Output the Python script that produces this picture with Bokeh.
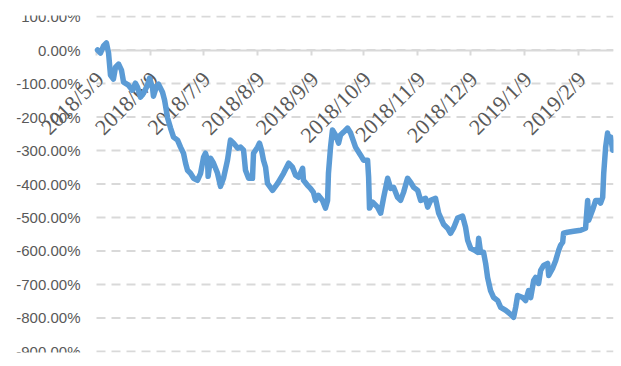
import math
import pandas as pd
from bokeh.plotting import figure
from bokeh.models import FixedTicker, PrintfTickFormatter, Range1d, LabelSet, ColumnDataSource
from bokeh.embed import file_html
from bokeh.resources import INLINE

# ---- data ----
start_date = "2018-05-09"
end_date = "2019-03-01"
tick_labels = ["2018/5/9", "2018/6/9", "2018/7/9", "2018/8/9", "2018/9/9",
               "2018/10/9", "2018/11/9", "2018/12/9", "2019/1/9", "2019/2/9"]
y_ticks = [100, 0, -100, -200, -300, -400, -500, -600, -700, -800, -900]

# days since start_date
day = [0.6, 2.3, 4.0, 5.7, 6.9, 8.0, 9.7, 10.9, 12.6, 14.3, 15.5, 18.3, 20.6, 22.3, 23.5,
       25.2, 26.9, 29.2, 30.4, 32.1, 32.6, 34.4, 35.5, 37.8, 39.0, 40.7, 42.4, 44.1, 46.4,
       48.1, 49.8, 51.0, 52.1, 53.8, 55.6, 57.8, 59.6, 61.3, 62.4, 63.6, 63.9, 65.3, 67.0,
       69.3, 71.0, 72.7, 75.0, 76.7, 78.5, 80.8, 82.5, 84.2, 85.3, 87.1, 89.3, 89.9, 92.2,
       93.3, 94.5, 95.6, 96.8, 97.9, 100.8, 103.7, 105.4, 107.1, 110.0, 112.2, 114.0, 115.7,
       118.0, 118.5, 120.8, 122.5, 124.2, 125.4, 127.1, 129.4, 131.1, 132.3, 132.8, 134.0,
       135.1, 136.9, 138.6, 139.7, 141.5, 143.7, 145.5, 148.3, 151.2, 152.9, 155.2, 155.8,
       156.3, 158.1, 160.9, 162.7, 164.4, 166.7, 168.4, 170.1, 172.4, 174.1, 175.8, 178.1,
       179.9, 181.6, 183.9, 185.6, 188.4, 189.6, 191.3, 194.1, 195.9, 198.7, 201.0, 202.7,
       204.4, 206.7, 209.6, 211.3, 212.5, 214.2, 216.5, 218.2, 218.8, 219.9, 221.6, 222.8,
       223.9, 225.6, 227.4, 229.7, 231.4, 234.3, 237.1, 238.8, 240.0, 241.1, 244.0, 245.7,
       247.4, 248.6, 250.3, 251.4, 253.1, 254.3, 256.0, 258.3, 258.9, 261.1, 262.9, 264.6,
       265.7, 266.9, 267.4, 269.7, 273.2, 277.2, 280.0, 281.2, 281.8, 284.0, 285.8, 287.5,
       288.6, 289.8, 290.4, 291.5, 292.6, 293.2, 294.4, 295.5, 296.1]

# cumulative return, percent
ret_pct = [0, -9, 12, 21, -9, -75, -87, -51, -42, -60, -96, -105, -120, -99, -111,
           -141, -129, -105, -84, -114, -138, -108, -102, -126, -150, -203, -233, -260, -269,
           -290, -308, -338, -359, -368, -383, -389, -368, -320, -308, -329, -377, -323, -338,
           -368, -407, -383, -329, -269, -278, -293, -290, -299, -359, -383, -383, -308, -290,
           -278, -299, -329, -350, -398, -419, -398, -383, -368, -338, -350, -374, -380,
           -353, -389, -404, -413, -425, -449, -434, -449, -472, -449, -368, -290,
           -239, -254, -278, -254, -245, -233, -248, -290, -314, -329, -329, -380,
           -472, -454, -469, -487, -440, -383, -413, -410, -440, -449, -425, -383,
           -395, -410, -419, -449, -443, -469, -449, -443, -487, -520, -532, -547,
           -532, -502, -496, -529, -568, -592, -598, -604, -562, -604, -604, -637,
           -679, -718, -739, -748, -768, -777, -789, -798, -768, -733, -739, -748,
           -718, -739, -688, -679, -697, -658, -643, -637, -673, -652, -628, -598,
           -583, -574, -547, -544, -541, -538, -532, -449, -508, -478, -449, -449,
           -457, -440, -368, -290, -248, -269, -260, -299, -278]

# ---- derived ----
base = pd.Timestamp(start_date)
tick_days = [(pd.Timestamp(s.replace("/", "-")) - base).days for s in tick_labels]
end_day = (pd.Timestamp(end_date) - base).days

GRID = "#D9D9D9"
TXT = "#595959"
FONT = "Liberation Sans"

# layout (pixels): the frame covers the whole width so that the rotated first
# category label (which sticks out left of the plot area) is not clipped.
W, H = 621, 366
PLOT_LEFT, PLOT_RIGHT = 96, 613
x_start = -end_day * PLOT_LEFT / (PLOT_RIGHT - PLOT_LEFT)

p = figure(width=W, height=H, output_backend="svg", toolbar_location=None,
           x_range=Range1d(x_start, end_day), y_range=Range1d(-903, 103),
           min_border_left=0, min_border_right=W - PLOT_RIGHT,
           min_border_top=15, min_border_bottom=14)
p.outline_line_color = None
p.background_fill_color = "white"

# built-in grids off (they would span the whole frame)
p.xgrid.visible = False
p.ygrid.visible = False
p.xgrid.grid_line_color = None
p.ygrid.grid_line_color = None

# dashed horizontal gridlines, limited to the plot area (day 0 .. end)
n = len(y_ticks)
p.segment(x0=[0] * n, y0=y_ticks, x1=[end_day] * n, y1=y_ticks,
          line_color=GRID, line_width=2, line_dash="9 6", level="underlay")

yax = p.yaxis[0]
yax.fixed_location = 0
yax.ticker = FixedTicker(ticks=y_ticks)
yax.formatter = PrintfTickFormatter(format="%.2f%%")
yax.axis_line_color = None
yax.major_tick_line_color = None
yax.minor_tick_line_color = None
yax.major_tick_out = 0
yax.major_tick_in = 0
yax.major_label_standoff = 16
yax.major_label_text_color = TXT
yax.major_label_text_font = FONT
yax.major_label_text_font_size = "15px"

# category axis crossing at 0 (line + ticks); its labels are drawn as rotated text below
xax = p.xaxis[0]
xax.fixed_location = 0
xax.bounds = (0, end_day)
xax.level = "underlay"
xax.ticker = FixedTicker(ticks=tick_days)
xax.major_label_overrides = {d: "" for d in tick_days}
xax.major_label_text_font_size = "0px"
xax.axis_line_color = GRID
xax.axis_line_width = 2
xax.major_tick_line_color = GRID
xax.major_tick_line_width = 2
xax.major_tick_in = 0
xax.major_tick_out = 5
xax.minor_tick_line_color = None

src_lab = ColumnDataSource(dict(x=tick_days, y=[0] * len(tick_days), text=tick_labels))
p.add_layout(LabelSet(x="x", y="y", text="text", source=src_lab, level="underlay",
                      angle=math.pi / 4, text_align="right", text_baseline="middle",
                      x_offset=3.5, y_offset=-25.5,
                      text_font=FONT, text_font_size="22px", text_color=TXT))

p.line(day, ret_pct, line_width=5.5, color="#5B9BD5", line_join="round", line_cap="round")

open("out.html", "w").write(file_html(p, INLINE))
